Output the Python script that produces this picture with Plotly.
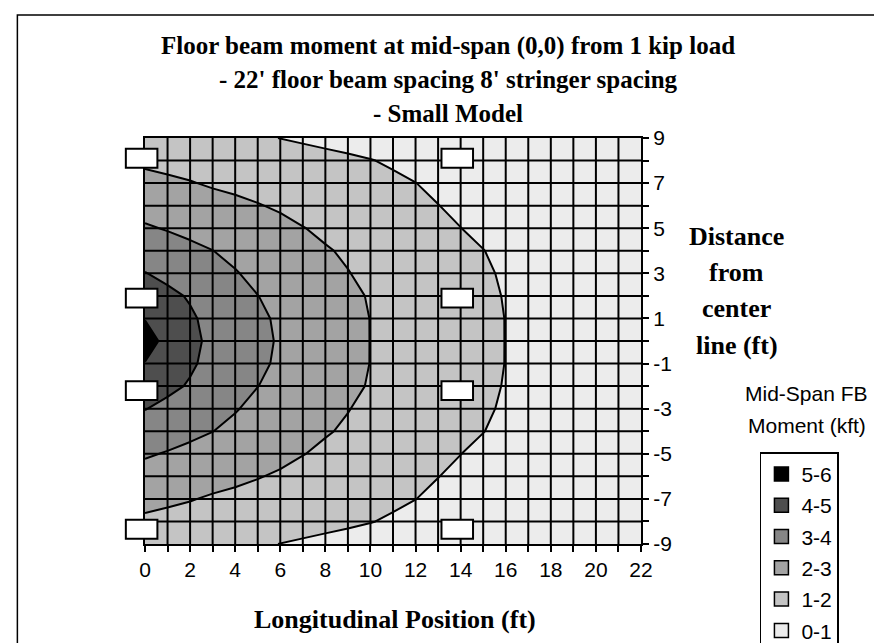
import plotly.graph_objects as go

# grid of the surface chart (ft)
x_ft = list(range(0, 23))
y_ft = list(range(-9, 10))

# mid-span floor beam moment (kft) along each line y = const, for x = 0..22
m_y0 = [5.35, 4.76, 4.2, 3.82, 3.5, 3.2, 2.92, 2.68, 2.45, 2.22, 1.99, 1.82, 1.65, 1.48, 1.32, 1.16, 0.99, 0.86, 0.72, 0.58, 0.44, 0.3, 0.16]
m_y1 = [4.97, 4.6, 4.12, 3.75, 3.45, 3.15, 2.88, 2.64, 2.42, 2.2, 1.99, 1.81, 1.64, 1.47, 1.31, 1.15, 0.99, 0.85, 0.71, 0.57, 0.43, 0.29, 0.15]
m_y2 = [4.45, 4.2, 3.92, 3.6, 3.3, 3.01, 2.78, 2.56, 2.35, 2.15, 1.95, 1.77, 1.6, 1.44, 1.28, 1.12, 0.97, 0.83, 0.69, 0.56, 0.42, 0.28, 0.15]
m_y3 = [4.03, 3.78, 3.55, 3.3, 3.05, 2.8, 2.6, 2.42, 2.24, 2.02, 1.86, 1.69, 1.53, 1.38, 1.23, 1.08, 0.93, 0.8, 0.67, 0.54, 0.41, 0.27, 0.14]
m_y4 = [3.6, 3.4, 3.2, 3.01, 2.8, 2.6, 2.42, 2.25, 2.05, 1.92, 1.77, 1.62, 1.47, 1.33, 1.17, 1.01, 0.88, 0.76, 0.64, 0.52, 0.39, 0.26, 0.13]
m_y5 = [3.1, 2.94, 2.78, 2.63, 2.49, 2.35, 2.21, 2.02, 1.88, 1.73, 1.58, 1.44, 1.29, 1.15, 1.005, 0.89, 0.79, 0.69, 0.59, 0.48, 0.37, 0.25, 0.12]
m_y6 = [2.65, 2.53, 2.4, 2.28, 2.16, 2.04, 1.9, 1.77, 1.64, 1.51, 1.38, 1.26, 1.13, 1.008, 0.9, 0.8, 0.71, 0.62, 0.53, 0.43, 0.33, 0.22, 0.11]
m_y7 = [2.25, 2.14, 2.04, 1.915, 1.83, 1.72, 1.62, 1.52, 1.41, 1.31, 1.21, 1.1, 1.005, 0.9, 0.81, 0.72, 0.64, 0.56, 0.48, 0.39, 0.3, 0.2, 0.1]
m_y8 = [1.85, 1.77, 1.69, 1.6, 1.52, 1.43, 1.35, 1.27, 1.18, 1.1, 1.02, 0.93, 0.85, 0.78, 0.71, 0.64, 0.57, 0.5, 0.43, 0.35, 0.27, 0.18, 0.09]
m_y9 = [1.5, 1.42, 1.34, 1.26, 1.18, 1.09, 0.99, 0.91, 0.84, 0.78, 0.72, 0.66, 0.6, 0.55, 0.5, 0.45, 0.4, 0.35, 0.3, 0.25, 0.2, 0.13, 0.07]

# rows from y=-9 up to y=9 (response is symmetric about the center line)
z_rows = [m_y9, m_y8, m_y7, m_y6, m_y5, m_y4, m_y3, m_y2, m_y1,
          m_y0,
          m_y1, m_y2, m_y3, m_y4, m_y5, m_y6, m_y7, m_y8, m_y9]

band_labels = ["5-6", "4-5", "3-4", "2-3", "1-2", "0-1"]
band_colors = ["#000000", "#4e4e4e", "#868686", "#a3a3a3", "#c4c4c4", "#ececec"]

x_tick_text = [str(v) if v % 2 == 0 else "" for v in x_ft]
y_tick_text = [str(v) if v % 2 != 0 else "" for v in y_ft]

# stringer markers drawn on the chart
stringer_x = [0, 14]
stringer_y = [8.1, 1.9, -2.2, -8.35]

# plot area in pixels
L, R, T, B = 136.7, 633.0, 130.0, 535.7
W, H = R - L, B - T


def px_x(p):
    return (p - L) / W


def px_y(p):
    return (B - p) / H


SERIF = "Liberation Serif, Times New Roman, serif"
SANS = "Liberation Sans, Arial, sans-serif"

colorscale = [[i / 5, c] for i, c in enumerate(reversed(band_colors))]

fig = go.Figure()
fig.add_trace(go.Contour(
    x=x_ft, y=y_ft, z=z_rows,
    contours=dict(start=1, end=5, size=1, coloring="fill", showlines=True),
    colorscale=colorscale,
    line=dict(color="black", width=2, smoothing=0),
    showscale=False, hoverinfo="skip", showlegend=False,
))

for lab, col in zip(band_labels, band_colors):
    fig.add_trace(go.Scatter(
        x=[None], y=[None], mode="markers", name=lab, legendgroup=lab,
        marker=dict(symbol="square", size=14, color=col, line=dict(color="black", width=1.5)),
    ))

shapes = []
# grid lines drawn over the shaded surface
for xv in x_ft[1:-1]:
    shapes.append(dict(type="line", xref="x", yref="y", x0=xv, x1=xv, y0=y_ft[0], y1=y_ft[-1],
                       line=dict(color="black", width=2), layer="above"))
for yv in y_ft[1:-1]:
    shapes.append(dict(type="line", xref="x", yref="y", x0=x_ft[0], x1=x_ft[-1], y0=yv, y1=yv,
                       line=dict(color="black", width=2), layer="above"))
# white stringer boxes
bw, bh = 1.4, 0.84
for sx in stringer_x:
    for sy in stringer_y:
        shapes.append(dict(type="rect", xref="paper", yref="paper",
                           x0=(sx - 0.15 - bw / 2) / 22, x1=(sx - 0.15 + bw / 2) / 22,
                           y0=(sy - bh / 2 + 9) / 18, y1=(sy + bh / 2 + 9) / 18,
                           fillcolor="white", line=dict(color="black", width=2), layer="above"))
# chart border
shapes.append(dict(type="rect", xref="paper", yref="paper",
                   x0=px_x(9), x1=px_x(877), y0=px_y(660), y1=px_y(7),
                   line=dict(color="black", width=1.5), fillcolor="rgba(0,0,0,0)", layer="below"))

annotations = []
title_lines = ["Floor beam moment at mid-span (0,0) from 1 kip load",
               "- 22' floor beam spacing 8' stringer spacing",
               "- Small Model"]
for txt, py in zip(title_lines, [38, 72, 106]):
    annotations.append(dict(text="<b>" + txt + "</b>", xref="paper", yref="paper",
                            x=px_x(440), y=px_y(py), xanchor="center", yanchor="middle",
                            showarrow=False, font=dict(family=SERIF, size=25, color="black")))
for txt, py in zip(["Distance", "from", "center", "line (ft)"], [228, 264, 300, 337]):
    annotations.append(dict(text="<b>" + txt + "</b>", xref="paper", yref="paper",
                            x=px_x(729), y=px_y(py), xanchor="center", yanchor="middle",
                            showarrow=False, font=dict(family=SERIF, size=26, color="black")))
annotations.append(dict(text="<b>Longitudinal Position (ft)</b>", xref="paper", yref="paper",
                        x=px_x(387), y=px_y(611), xanchor="center", yanchor="middle",
                        showarrow=False, font=dict(family=SERIF, size=26, color="black")))
for txt, py in zip(["Mid-Span FB", "Moment (kft)"], [385, 417]):
    annotations.append(dict(text=txt, xref="paper", yref="paper",
                            x=px_x(799), y=px_y(py), xanchor="center", yanchor="middle",
                            showarrow=False, font=dict(family=SANS, size=21, color="black")))

fig.update_layout(
    width=882, height=643,
    margin=dict(l=L, r=882 - R, t=T, b=643 - B, autoexpand=False),
    paper_bgcolor="white", plot_bgcolor="white",
    font=dict(family=SANS, size=21, color="black"),
    xaxis=dict(range=[0, 22], tickmode="array", tickvals=x_ft, ticktext=x_tick_text,
               ticks="outside", ticklen=6, tickwidth=1.5, tickcolor="black",
               showline=True, linecolor="black", linewidth=2, mirror=True,
               showgrid=False, zeroline=False, tickfont=dict(family=SANS, size=21)),
    yaxis=dict(range=[-9, 9], side="right", tickmode="array", tickvals=y_ft, ticktext=y_tick_text,
               ticks="outside", ticklen=6, tickwidth=1.5, tickcolor="black",
               showline=True, linecolor="black", linewidth=2, mirror=True,
               showgrid=False, zeroline=False, tickfont=dict(family=SANS, size=21)),
    legend=dict(x=px_x(752), y=px_y(444), xanchor="left", yanchor="top",
                bordercolor="black", borderwidth=1.5, bgcolor="white",
                traceorder="grouped", tracegroupgap=1,
                font=dict(family=SANS, size=21, color="black")),
    shapes=shapes,
    annotations=annotations,
)

fig.write_html("out.html")
